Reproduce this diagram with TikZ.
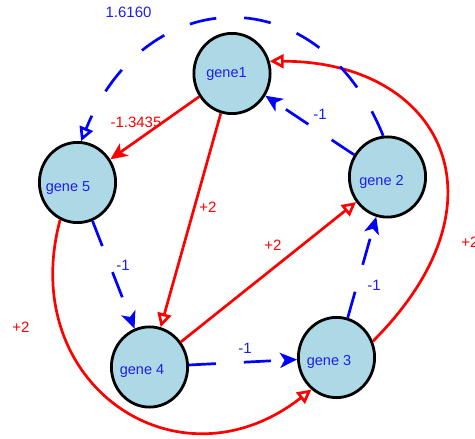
\documentclass[tikz,border=0pt]{standalone}
\usepackage{fontspec}
\setmainfont{Liberation Sans}
\usetikzlibrary{arrows.meta, shapes.geometric}
\definecolor{genefill}{RGB}{173,216,230}
\definecolor{genetext}{RGB}{30,30,235}
\definecolor{inhblue}{RGB}{0,0,255}
\definecolor{actred}{RGB}{255,0,0}

\begin{document}
\begin{tikzpicture}[x=1pt,y=1pt,
  gene/.style={ellipse, draw=black, line width=2.8pt, fill=genefill,
    minimum width=76.2pt, minimum height=80.2pt, inner sep=0pt},
  genename/.style={text=genetext, font=\fontsize{14.5}{16}\selectfont, inner sep=0pt},
  rededge/.style={draw=actred, line width=2.7pt},
  blueedge/.style={draw=inhblue, line width=2.7pt, dash pattern=on 27pt off 28pt},
  wlabel/.style={font=\fontsize{15}{17}\selectfont, inner sep=0pt},
  redlabel/.style={wlabel, text=actred},
  bluelabel/.style={wlabel, text=genetext},
  solidhead/.style={-{Stealth[length=17pt,width=15pt,inset=4.5pt]}},
  openhead/.style={-{Triangle[open,length=14pt,width=14pt]}},
]
\useasboundingbox (0,0) rectangle (475,-439);

% genes
\node[gene, label={[genename, shift={(-5.5pt,-0.5pt)}]center:gene1}]  (g1) at (232,-73.5) {};
\node[gene, label={[genename, shift={(-9.5pt,-5.5pt)}]center:gene 5}] (g5) at (77.5,-182.5) {};
\node[gene, label={[genename, shift={(-6pt,-4.5pt)}]center:gene 2}]   (g2) at (387.5,-177) {};
\node[gene, label={[genename, shift={(-7.5pt,-4.5pt)}]center:gene 4}] (g4) at (149.5,-367) {};
\node[gene, label={[genename, shift={(-7.5pt,-4pt)}]center:gene 3}]   (g3) at (336.5,-357.5) {};

% activating links
\draw[rededge, solidhead] (g1) -- (g5);
\draw[rededge, openhead] (g1) -- (g4);
\draw[rededge, openhead] (g4) -- (g2);
\draw[rededge, openhead] (g3.24) to[out=45, in=0, out distance=200pt, in distance=170pt] (g1.18);
\draw[rededge, openhead] (g5.245) to[out=255, in=218, out distance=170pt, in distance=170pt] (g3.232);

% inhibiting links
\draw[blueedge, solidhead] (g2) -- (g1);
\draw[blueedge, solidhead] (g5) -- (g4);
\draw[blueedge, solidhead] (g4) -- (g3);
\draw[blueedge, solidhead] (g3) -- (g2);
\draw[blueedge, openhead] (g2.96) to[out=112, in=68, out distance=172pt, in distance=172pt] (g5.85);

% weights
\node[redlabel] (w15) at (136,-122) {-1.3435};
\node[redlabel] (w14) at (208,-207.5) {+2};
\node[redlabel] (w42) at (273,-245.5) {+2};
\node[redlabel] (w31) at (470,-242) {+2};
\node[redlabel] (w53) at (21,-327) {+2};
\node[bluelabel] (w21) at (320,-114) {-1};
\node[bluelabel] (w54) at (123,-265) {-1};
\node[bluelabel] (w43) at (245,-348) {-1};
\node[bluelabel] (w32) at (374,-285) {-1};
\node[bluelabel] (w25) at (128.5,-12) {1.6160};
\end{tikzpicture}
\end{document}
